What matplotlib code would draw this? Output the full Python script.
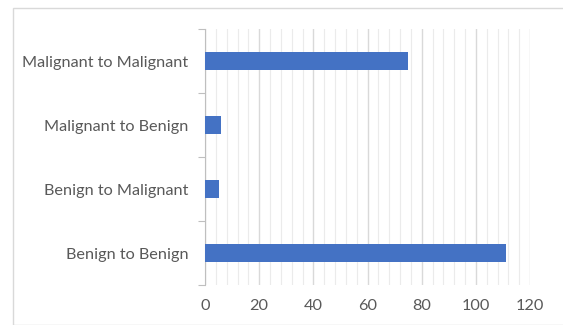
import numpy as np
import matplotlib.pyplot as plt
from matplotlib.patches import Rectangle
from matplotlib.ticker import MultipleLocator, FixedLocator

categories = ["Benign to Benign", "Benign to Malignant", "Malignant to Benign", "Malignant to Malignant"]
counts = [111, 5, 6, 75]
x_ticks = [0, 20, 40, 60, 80, 100, 120]

text_grey = "#595959"
plt.rcParams['font.family'] = ['Lato', 'DejaVu Sans']

fig = plt.figure(figsize=(5.63, 3.25), dpi=100)
# light frame around the chart area
fig.patches.append(Rectangle((13 / 563, 0), 1, 1 - 8 / 325, transform=fig.transFigure,
                             fill=False, edgecolor="#D9D9D9", linewidth=1))

ax = fig.add_axes([205 / 563, 40 / 325, 325 / 563, 256 / 325])
y = np.arange(len(categories))
ax.barh(y, counts, height=0.27, color="#4472C4", zorder=3)

ax.set_xlim(0, 120)
ax.set_ylim(-0.5, len(categories) - 0.5)
ax.set_xticks(x_ticks)
ax.xaxis.set_minor_locator(MultipleLocator(4))
ax.grid(axis="x", which="major", color="#D9D9D9", linewidth=1, zorder=0)
ax.grid(axis="x", which="minor", color="#EBEBEB", linewidth=0.8, zorder=0)
ax.tick_params(axis="x", which="both", length=0, labelsize=11.7, colors=text_grey, pad=10)

# category labels without ticks, ticks at category boundaries
ax.set_yticks(y)
ax.set_yticklabels(categories)
ax.tick_params(axis="y", which="major", length=0, labelsize=11.7, colors=text_grey, pad=12)
ax.yaxis.set_minor_locator(FixedLocator(np.arange(-0.5, len(categories), 1)))
ax.tick_params(axis="y", which="minor", length=5, color="#BFBFBF", width=0.8)

for s in ["top", "right", "bottom"]:
    ax.spines[s].set_visible(False)
ax.spines["left"].set_color("#BFBFBF")
ax.spines["left"].set_linewidth(0.8)

fig.savefig("out.png", dpi=100)
